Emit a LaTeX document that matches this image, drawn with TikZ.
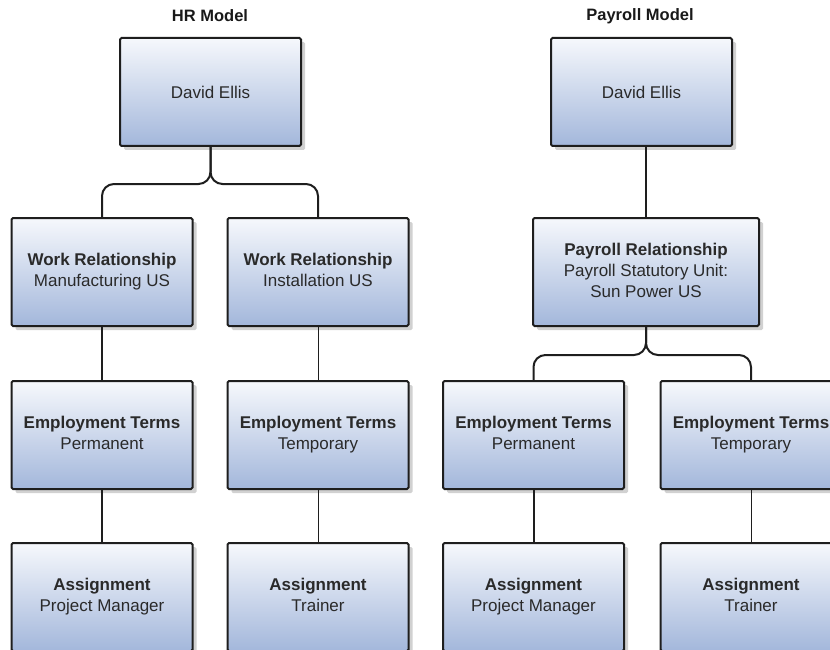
\documentclass[tikz,border=0pt]{standalone}
\usepackage{fontspec}
\setmainfont{Liberation Sans}
\usetikzlibrary{shadows}
\definecolor{boxtop}{HTML}{F6F8FC}
\definecolor{boxbot}{HTML}{A3B7DB}
\definecolor{edge}{HTML}{1E1E1E}
\definecolor{txt}{HTML}{2A2A2A}
\definecolor{shade}{HTML}{BDBDBD}
\newcommand\twoline[2]{\textbf{#1}\strut\\#2\strut}
\tikzset{
  box/.style={draw=edge, line width=2pt, rounded corners=1.5pt,
    top color=boxtop, bottom color=boxbot,
    minimum width=181pt, minimum height=108pt, inner sep=0pt,
    align=center, text=txt, font=\fontsize{17}{21}\selectfont,
    drop shadow={shadow xshift=4pt, shadow yshift=-4pt, fill=shade, opacity=0.7}},
  widebox/.style={box, minimum width=226pt},
  title/.style={font=\fontsize{16.5}{19}\selectfont\bfseries, text=black!90},
  conn/.style={draw=edge, line width=2pt, rounded corners=12pt},
  thinconn/.style={draw=edge, line width=1pt},
}
\begin{document}
\begin{tikzpicture}[x=1pt,y=-1pt]
\useasboundingbox (0,0) rectangle (830,650);
% titles
\node[title] (t1) at (210,16) {HR Model};
\node[title] (t2) at (640,16) {Payroll Model};
% HR model
\node[box] (hde) at (210.5,92) {David Ellis};
\node[box] (wr1) at (102,272) {\twoline{Work Relationship}{Manufacturing US}};
\node[box] (wr2) at (318,272) {\twoline{Work Relationship}{Installation US}};
\node[box] (et1) at (102,435) {\twoline{Employment Terms}{Permanent}};
\node[box] (et2) at (318,435) {\twoline{Employment Terms}{Temporary}};
\node[box] (as1) at (102,597) {\twoline{Assignment}{Project Manager}};
\node[box] (as2) at (318,597) {\twoline{Assignment}{Trainer}};
% Payroll model
\node[box] (pde) at (641.5,92) {David Ellis};
\node[widebox] (pr) at (646,272) {\textbf{Payroll Relationship}\strut\\Payroll Statutory Unit:\strut\\Sun Power US\strut};
\node[box] (pet1) at (533.5,435) {\twoline{Employment Terms}{Permanent}};
\node[box] (pet2) at (751,435) {\twoline{Employment Terms}{Temporary}};
\node[box] (pas1) at (533.5,597) {\twoline{Assignment}{Project Manager}};
\node[box] (pas2) at (751,597) {\twoline{Assignment}{Trainer}};
% connectors HR
\draw[conn] (hde.south) -- ++(0,37) -| (wr1.north);
\draw[conn] (hde.south) -- ++(0,37) -| (wr2.north);
\draw[conn] (wr1.south) -- (et1.north);
\draw[thinconn] (wr2.south) -- (et2.north);
\draw[conn] (et1.south) -- (as1.north);
\draw[thinconn] (et2.south) -- (as2.north);
% connectors Payroll
\draw[conn] (pr.north) -- (pr.north |- pde.south);
\draw[conn] (pr.south) -- ++(0,28) -| (pet1.north);
\draw[conn] (pr.south) -- ++(0,28) -| (pet2.north);
\draw[conn] (pet1.south) -- (pas1.north);
\draw[thinconn] (pet2.south) -- (pas2.north);
\end{tikzpicture}
\end{document}
